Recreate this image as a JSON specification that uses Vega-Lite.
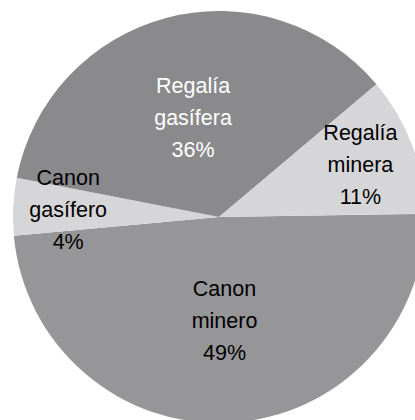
{
  "$schema": "https://vega.github.io/schema/vega-lite/v6.json",
  "width": 392,
  "height": 406,
  "autosize": "none",
  "padding": {"left": 23, "top": 14, "right": 0, "bottom": 0},
  "background": "white",
  "view": {"stroke": null},
  "data": {
    "values": [
      {"cat": "Canon minero", "label": "Canon\nminero\n49%", "value": 48.8, "orden": 1},
      {"cat": "Canon gasífero", "label": "Canon\ngasífero\n4%", "value": 4.5, "orden": 2},
      {"cat": "Regalía gasífera", "label": "Regalía\ngasífera\n36%", "value": 35.8, "orden": 3},
      {"cat": "Regalía minera", "label": "Regalía\nminera\n11%", "value": 10.9, "orden": 4}
    ]
  },
  "encoding": {
    "theta": {"field": "value", "type": "quantitative", "stack": true, "scale": {"range": [1.555, 7.838]}},
    "order": {"field": "orden", "type": "quantitative"},
    "detail": {"field": "cat", "type": "nominal"}
  },
  "layer": [
    {
      "mark": {"type": "arc", "outerRadius": 206},
      "encoding": {
        "color": {
          "field": "cat",
          "type": "nominal",
          "legend": null,
          "scale": {
            "domain": ["Canon minero", "Canon gasífero", "Regalía gasífera", "Regalía minera"],
            "range": ["#969698", "#d6d6d8", "#8a8a8c", "#d6d6d8"]
          }
        }
      }
    },
    {
      "mark": {
        "type": "text",
        "radius": {"expr": "datum.cat === 'Regalía minera' || datum.cat === 'Canon gasífero' ? 151 : 103"},
        "font": "Liberation Sans",
        "fontSize": 21.5,
        "lineBreak": "\n",
        "lineHeight": 32,
        "dy": -30,
        "align": "center",
        "baseline": "middle"
      },
      "encoding": {
        "text": {"field": "label", "type": "nominal"},
        "color": {"condition": {"test": "datum.cat === 'Regalía gasífera'", "value": "white"}, "value": "black"}
      }
    }
  ]
}
